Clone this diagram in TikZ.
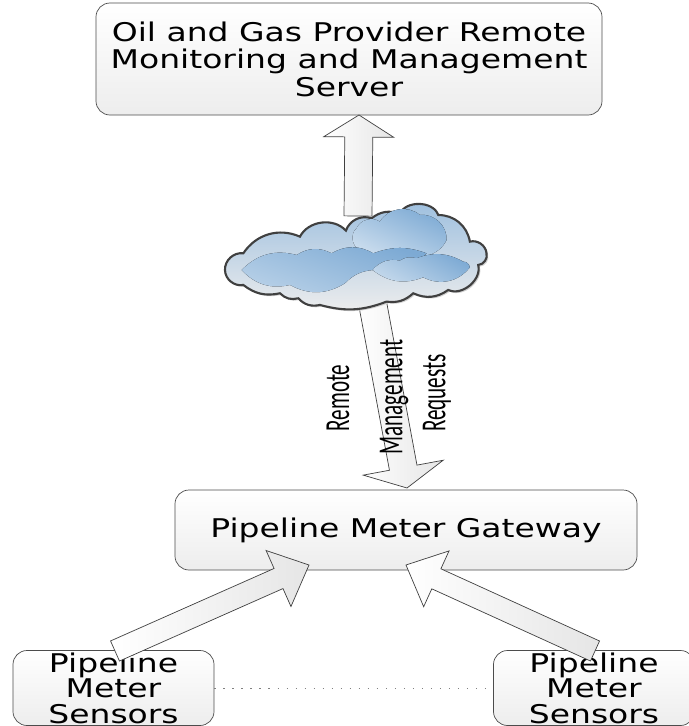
\documentclass[tikz,border=0pt]{standalone}
\usepackage{fontspec}
\usepackage{graphicx}
\newfontfamily\panelfont[FakeStretch=1.28]{DejaVu Sans}
\newfontfamily\narrowfont{Carlito}
\usetikzlibrary{calc}
\tikzset{
  panel/.style={draw=black!70,line width=0.6pt,rounded corners=0.42cm,top color=white,bottom color=black!7,
    align=center,font=\panelfont\fontsize{22}{23.5}\selectfont,inner sep=0pt},
  sensorbox/.style={panel,font=\panelfont\fontsize{22}{21.7}\selectfont,minimum width=6.03cm,minimum height=2.25cm},
  blockarrow/.style n args={3}{to path={
    let \p1=($(\tikztotarget)-(\tikztostart)$),\n1={atan2(\y1,\x1)},\n2={veclen(\x1,\y1)} in
    ++(\n1+90:#1) -- ++(\n1:\n2-#3) -- ++(\n1+90:#2-#1) -- (\tikztotarget)
    -- ++($(\n1+180:#3)+(\n1-90:#2)$) -- ++(\n1+90:#2-#1) -- ++(\n1+180:\n2-#3) -- cycle}},
  pipe/.style={draw=black!75,line width=0.6pt,left color=white,right color=black!10},
  sidetext/.style={rotate=90,font=\narrowfont\fontsize{30}{30}\selectfont},
}
\definecolor{cloudblue}{RGB}{125,170,212}
\newcommand{\cloudline}{(438,122) to[bend left=45] (515,85) to[bend left=30] (600,72)
  to[bend left=70] (715,75) to[bend left=40] (810,155) to[bend left=50] (860,190)
  to[bend left=50] (835,225)
  to[bend left=65] (745,300) to[bend left=30] (640,310) to[bend left=25] (560,335)
  to[bend left=18] (360,345) to[bend left=30] (295,325) to[bend left=30] (240,310)
  to[bend left=25] (130,285) to[bend left=50] (75,240) to[bend left=50] (130,190)
  to[bend left=40] (300,140) to[bend left=55] (438,122) -- cycle}
\begin{document}
\begin{tikzpicture}[x=0.03cm,y=-0.03cm]
  \useasboundingbox (0,0) rectangle (688,726);
  \node[panel,minimum width=15.18cm,minimum height=3.36cm] (server) at (349,59)
    {Oil and Gas Provider Remote\\Monitoring and Management\\Server};
  \node[panel,minimum width=13.86cm,minimum height=2.4cm] (gateway) at (406,530)
    {Pipeline Meter Gateway};
  \node[sensorbox] (sensorl) at (113.5,688) {Pipeline\\Meter\\Sensors};
  \node[sensorbox] (sensorr) at (594,688) {Pipeline\\Meter\\Sensors};
  \draw[black!50,line width=0.5pt,dash pattern=on 1pt off 6.7pt] (sensorl) -- (sensorr);
  % block arrows
  \coordinate (upfoot) at (358,216);
  \coordinate (uptip) at (359,115);
  \coordinate (downfoot) at (372,300);
  \coordinate (downtip) at (407,488);
  \coordinate (leftfoot) at (115,651);
  \coordinate (lefttip) at (309,565);
  \coordinate (rightfoot) at (595,651);
  \coordinate (righttip) at (406,565);
  \draw[pipe] (upfoot) to[blockarrow={0.42cm}{1.05cm}{0.66cm}] (uptip);
  \draw[pipe] (downfoot) to[blockarrow={0.42cm}{1.22cm}{0.62cm}] (downtip);
  \draw[pipe] (leftfoot) to[blockarrow={0.33cm}{0.92cm}{1cm}] (lefttip);
  \draw[pipe] (rightfoot) to[blockarrow={0.33cm}{0.92cm}{1cm}] (righttip);
  % cloud
  \begin{scope}[shift={(200,190)},x=0.01cm,y=-0.01cm]
    \fill[black!18] [shift={(5,5)}] \cloudline;
    \draw[black!75,line width=1.8pt,top color=cloudblue!75,bottom color=black!7] \cloudline;
    \fill[top color=cloudblue,bottom color=cloudblue!35,shading angle=-25]
      (470,115) to[bend left=50] (540,95) to[bend left=50] (660,75) to[bend left=50] (740,150)
      to[bend left=50] (610,185) to[bend left=50] (480,180) to[bend left=60] (470,115) -- cycle;
    \fill[top color=cloudblue,bottom color=cloudblue!55,shading angle=-20]
      (125,240) to[bend left=30] (290,195) to[bend left=30] (395,190) to[bend left=30] (520,190)
      to[bend left=20] (680,190) to[bend left=30] (520,240) to[bend right=20] (435,280)
      to[bend left=30] (270,285) to[bend left=30] (125,240) -- cycle;
    \fill[top color=cloudblue,bottom color=cloudblue!45,shading angle=-30]
      (518,240) to[bend left=30] (600,212) to[bend left=25] (650,205) to[bend left=25] (790,215)
      to[bend left=40] (810,232) to[bend left=40] (670,262) to[bend left=30] (518,240) -- cycle;
  \end{scope}
  \node[sidetext] (remote) at (338,398) {\scalebox{0.6}[1]{Remote}};
  \node[sidetext] (management) at (394,397) {\scalebox{0.6}[1]{Management}};
  \node[sidetext] (requests) at (437,393) {\scalebox{0.6}[1]{Requests}};
\end{tikzpicture}
\end{document}
